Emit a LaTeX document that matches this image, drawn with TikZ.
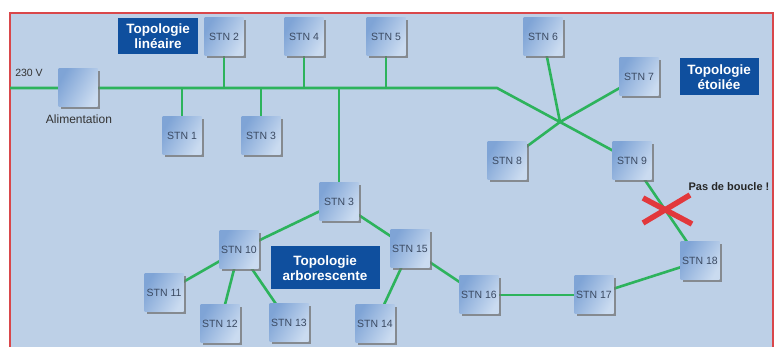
\documentclass[tikz,border=0pt]{standalone}
\usepackage{fontspec}
\setmainfont{Liberation Sans}
\usetikzlibrary{shadows}
\pgfdeclarelayer{back}
\pgfdeclarelayer{wires}
\pgfsetlayers{back,wires,main}
\definecolor{panel}{HTML}{BDD0E7}
\definecolor{frame}{HTML}{D9474B}
\definecolor{link}{HTML}{2DB35C}
\definecolor{boxdark}{HTML}{7FA4D6}
\definecolor{boxlight}{HTML}{CADBF0}
\definecolor{boxtext}{HTML}{3B4A62}
\definecolor{labelbg}{HTML}{0F4F9E}
\definecolor{crossred}{HTML}{E2383C}
\tikzset{
  stnbox/.style={rectangle, minimum width=39pt, minimum height=38pt, inner sep=0pt,
    left color=boxdark, right color=boxlight, shading angle=60,
    drop shadow={shadow xshift=2pt, shadow yshift=-2pt, fill=black!55, opacity=0.75},
    text=boxtext, font=\fontsize{10.5}{12}\selectfont},
  toplabel/.style={rectangle, fill=labelbg, text=white, align=center, inner sep=0pt,
    font=\bfseries\fontsize{13.5}{15.5}\selectfont},
  wire/.style={draw=link, line width=2.6pt},
  plain/.style={text=black!80}
}
\begin{document}
\begin{tikzpicture}[x=1pt,y=-1pt]
\begin{pgfonlayer}{back}
\useasboundingbox[fill=white] (0,0) rectangle (782,347);
\fill[panel] (10,13) rectangle (773,347);
\draw[frame, line width=1.4pt] (10,347) -- (10,13) -- (773,13) -- (773,347);
\end{pgfonlayer}

% nodes
\node[stnbox] (alim) at (78,88) {};
\node[stnbox] (s2) at (224,37) {STN 2};
\node[stnbox] (s4) at (304,37) {STN 4};
\node[stnbox] (s5) at (386,37) {STN 5};
\node[stnbox] (s1) at (182,136) {STN 1};
\node[stnbox] (s3a) at (261,136) {STN 3};
\node[stnbox] (s3b) at (339,202) {STN 3};
\node[stnbox] (s6) at (543,37) {STN 6};
\node[stnbox] (s7) at (639,77) {STN 7};
\node[stnbox] (s8) at (507,161) {STN 8};
\node[stnbox] (s9) at (632,161) {STN 9};
\node[stnbox] (s10) at (239,250) {STN 10};
\node[stnbox] (s11) at (164,293) {STN 11};
\node[stnbox] (s12) at (220,324) {STN 12};
\node[stnbox] (s13) at (289,323) {STN 13};
\node[stnbox] (s14) at (375,324) {STN 14};
\node[stnbox] (s15) at (410,249) {STN 15};
\node[stnbox] (s16) at (479,295) {STN 16};
\node[stnbox] (s17) at (594,295) {STN 17};
\node[stnbox] (s18) at (700,261) {STN 18};

% coordinates of junctions
\coordinate (lft) at (10,88);
\coordinate (bend) at (497,88);
\coordinate (hub) at (560,122);

% connectors (behind boxes)
\begin{pgfonlayer}{wires}
\path[wire] (lft) -- (alim.center) -- (bend) -- (hub);
\path[wire] (s2 |- lft) -- (s2.center);
\path[wire] (s4 |- lft) -- (s4.center);
\path[wire] (s5 |- lft) -- (s5.center);
\path[wire] (s1 |- lft) -- (s1.center);
\path[wire] (s3a |- lft) -- (s3a.center);
\path[wire] (s3b |- lft) -- (s3b.center);
\path[wire] (hub) -- (s6.center);
\path[wire] (hub) -- (s7.center);
\path[wire] (hub) -- (s8.center);
\path[wire] (hub) -- (s9.center);
\path[wire] (s3b.center) -- (s10.center);
\path[wire] (s3b.center) -- (s15.center);
\path[wire] (s10.center) -- (s11.center);
\path[wire] (s10.center) -- (s12.center);
\path[wire] (s10.center) -- (s13.center);
\path[wire] (s15.center) -- (s14.center);
\path[wire] (s15.center) -- (s16.center);
\path[wire] (s16.center) -- (s17.center);
\path[wire] (s17.center) -- (s18.center);
\path[wire] (s9.center) -- (s18.center);
\end{pgfonlayer}

% labels
\node[toplabel, minimum width=80pt, minimum height=36pt] (tl) at (158,36) {Topologie\\lin\'eaire};
\node[toplabel, minimum width=79pt, minimum height=37pt] (te) at (719,77) {Topologie\\\'etoil\'ee};
\node[toplabel, minimum width=109pt, minimum height=43pt] (ta) at (325,268) {Topologie\\arborescente};
\node[plain, font=\fontsize{10.5}{12}\selectfont] (v230) at (29,73) {230 V};
\node[plain, font=\fontsize{12}{14}\selectfont] (alimlbl) at (79,119) {Alimentation};
\node[font=\bfseries\fontsize{11}{12}\selectfont, text=black!85] (pdb) at (729,187) {Pas de boucle !};

% red cross
\coordinate (xa) at (643,198);
\coordinate (xb) at (692,224);
\coordinate (xc) at (643,223);
\coordinate (xd) at (690,195);
\draw[crossred, line width=5.5pt] (xa) -- (xb);
\draw[crossred, line width=5.5pt] (xc) -- (xd);
\end{tikzpicture}
\end{document}
